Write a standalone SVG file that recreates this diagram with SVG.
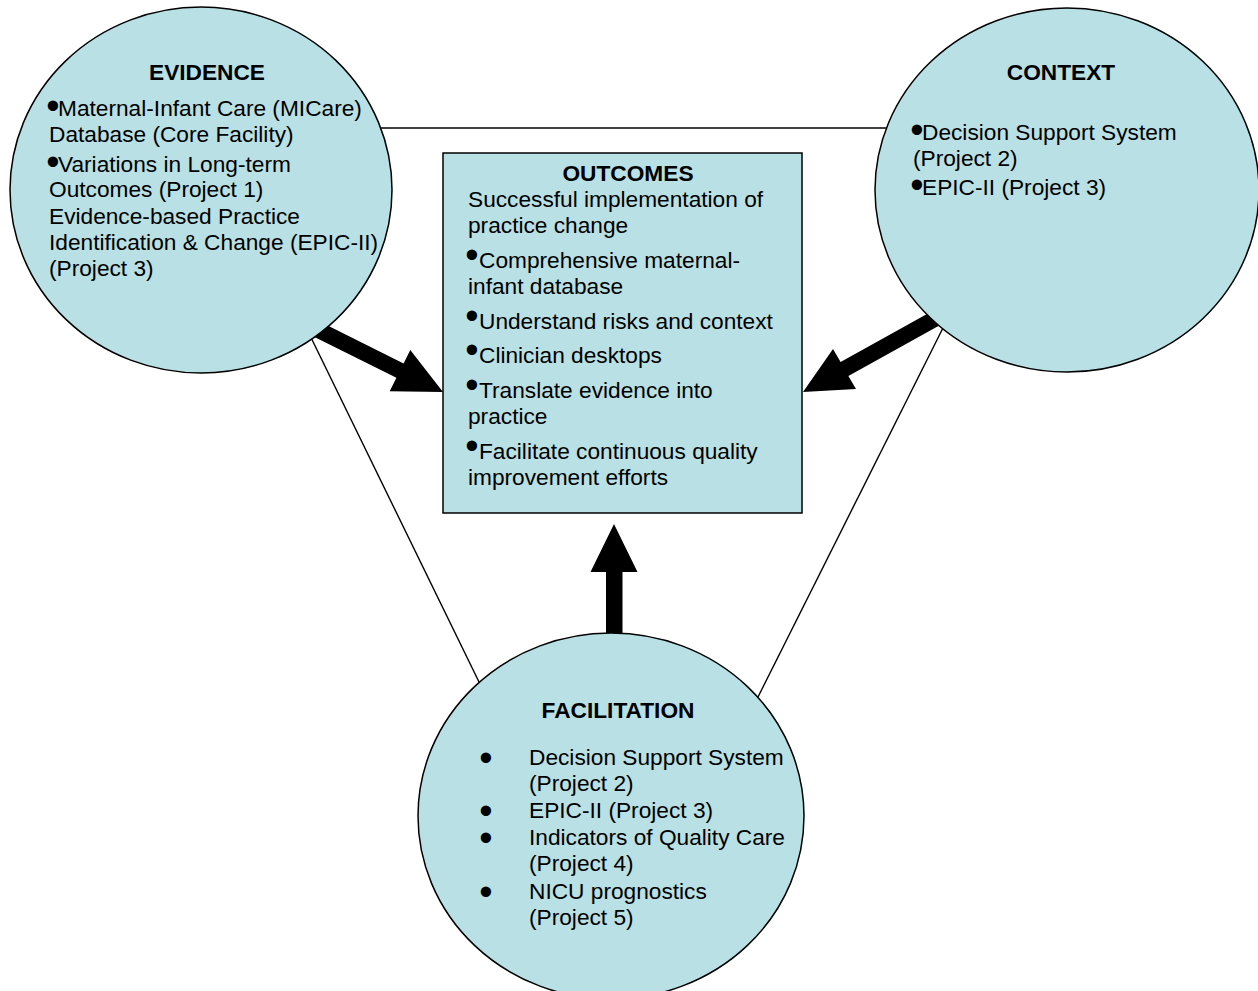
<svg xmlns="http://www.w3.org/2000/svg" width="1258" height="991" viewBox="0 0 1258 991">
<style>
.node{fill:#B9E0E4;stroke:#000;stroke-width:1.5}
.t{font-family:"Liberation Sans",Arial,sans-serif;font-size:22.7px;fill:#000}
.b{font-weight:bold;text-anchor:middle}
.bu{font-family:"Liberation Sans",Arial,sans-serif;font-size:38px;fill:#000;text-anchor:middle}
.line{stroke:#000;stroke-width:1.4;fill:none}
.arr{fill:#000;stroke:none}
</style>
<rect width="1258" height="991" fill="#fff"/>
<g id="connectors">
<line class="line" x1="380" y1="128" x2="892" y2="128"/>
<line class="line" x1="300" y1="315" x2="480" y2="684"/>
<line class="line" x1="955" y1="304" x2="756" y2="701"/>
<polygon class="arr" points="306.9,333.2 314.1,318.8 403.6,363.4 410.3,350 443,392 389.7,391.2 396.4,377.8"/>
<polygon class="arr" points="944.7,322.6 936.9,308.6 840.6,362 833,349 803,392 856,389 848.4,376"/>
<polygon class="arr" points="606,645 606,572 590.5,572 614,524 637.5,572 622.5,572 622.5,645"/>
</g>
<g id="evidence">
<ellipse class="node" cx="201" cy="190" rx="191" ry="183"/>
<text class="t b" x="207" y="80">EVIDENCE</text>
<text class="bu" x="53" y="118.6">•</text><text class="t" x="58" y="116">Maternal-Infant Care (MICare)</text>
<text class="t" x="49" y="142">Database (Core Facility)</text>
<text class="bu" x="53" y="174.6">•</text><text class="t" x="58" y="172">Variations in Long-term</text>
<text class="t" x="49" y="197">Outcomes (Project 1)</text>
<text class="t" x="49" y="224">Evidence-based Practice</text>
<text class="t" x="49" y="250">Identification &amp; Change (EPIC-II)</text>
<text class="t" x="49" y="276">(Project 3)</text>
</g>
<g id="context">
<ellipse class="node" cx="1067" cy="190" rx="192" ry="182"/>
<text class="t b" x="1061" y="80">CONTEXT</text>
<text class="bu" x="917" y="142.6">•</text><text class="t" x="922" y="140">Decision Support System</text>
<text class="t" x="913" y="166">(Project 2)</text>
<text class="bu" x="917" y="197.6">•</text><text class="t" x="922" y="195">EPIC-II (Project 3)</text>
</g>
<g id="outcomes">
<rect class="node" x="443" y="153" width="359" height="360"/>
<text class="t b" x="628" y="181">OUTCOMES</text>
<text class="t" x="468" y="207">Successful implementation of</text>
<text class="t" x="468" y="233">practice change</text>
<text class="bu" x="472" y="268">•</text><text class="t" x="479" y="268">Comprehensive maternal-</text>
<text class="t" x="468" y="294">infant database</text>
<text class="bu" x="472" y="329">•</text><text class="t" x="479" y="329">Understand risks and context</text>
<text class="bu" x="472" y="363">•</text><text class="t" x="479" y="363">Clinician desktops</text>
<text class="bu" x="472" y="398">•</text><text class="t" x="479" y="398">Translate evidence into</text>
<text class="t" x="468" y="424">practice</text>
<text class="bu" x="472" y="459">•</text><text class="t" x="479" y="459">Facilitate continuous quality</text>
<text class="t" x="468" y="485">improvement efforts</text>
</g>
<g id="facilitation">
<ellipse class="node" cx="611" cy="816" rx="193" ry="183"/>
<text class="t b" x="618" y="718">FACILITATION</text>
<text class="bu" x="486" y="771">•</text>
<text class="t" x="529" y="765">Decision Support System</text>
<text class="t" x="529" y="791">(Project 2)</text>
<text class="bu" x="486" y="824">•</text>
<text class="t" x="529" y="818">EPIC-II (Project 3)</text>
<text class="bu" x="486" y="851">•</text>
<text class="t" x="529" y="845">Indicators of Quality Care</text>
<text class="t" x="529" y="871">(Project 4)</text>
<text class="bu" x="486" y="905">•</text>
<text class="t" x="529" y="899">NICU prognostics</text>
<text class="t" x="529" y="925">(Project 5)</text>
</g>
</svg>
